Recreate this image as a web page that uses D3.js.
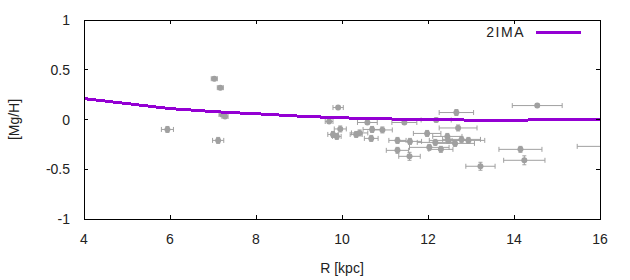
<!DOCTYPE html>
<html><head><meta charset="utf-8">
<script src="https://cdn.jsdelivr.net/npm/d3@7"></script>
<style>body{margin:0;background:#fff}svg{display:block}text{font-family:"Liberation Sans",Arial,sans-serif;font-size:14px;fill:#222}</style>
</head><body><svg id="c" width="630" height="280"></svg>
<script>
// model line (2IMA)
const lineR = [4.0,4.5,5.0,5.5,6.0,6.5,7.0,7.5,8.0,8.5,9.0,9.5,10.0,10.5,11.0,11.5,12.0,12.5,13.0,13.5,14.0,14.5,15.0,16.0];
const lineMgH = [0.21,0.185,0.16,0.135,0.11,0.095,0.08,0.068,0.058,0.046,0.034,0.025,0.017,0.011,0.006,0.003,0.0,-0.003,-0.006,-0.008,-0.007,-0.004,-0.002,0.0];
// observations
const obsR    = [5.94,7.03,7.17,7.21,7.28,7.12,9.91,9.70,9.96,9.79,9.88,10.33,10.41,10.59,10.70,10.94,10.68,12.66,11.45,12.19,12.70,11.98,11.29,11.58,12.45,12.78,12.94,12.47,12.63,12.17,12.03,12.30,11.29,11.57,14.54,14.15,14.24,13.22,16.37];
const obsMgH  = [-0.10,0.41,0.32,0.05,0.03,-0.21,0.12,-0.02,-0.095,-0.15,-0.17,-0.15,-0.135,-0.03,-0.10,-0.105,-0.19,0.07,-0.03,-0.005,-0.085,-0.14,-0.21,-0.22,-0.17,-0.20,-0.21,-0.21,-0.24,-0.23,-0.28,-0.30,-0.31,-0.37,0.14,-0.30,-0.41,-0.47,-0.27];
const obsRerr = [0.14,0.07,0.07,0.07,0.07,0.13,0.12,0.09,0.14,0.12,0.10,0.14,0.19,0.23,0.21,0.23,0.16,0.40,0.29,0.35,0.44,0.32,0.20,0.27,0.34,0.44,0.38,0.44,0.45,0.42,0.46,0.28,0.26,0.25,0.58,0.50,0.48,0.34,0.90];
const obsMerr = [0.03,0.02,0.02,0.02,0.02,0.03,0.02,0.02,0.03,0.03,0.03,0.03,0.03,0.02,0.03,0.03,0.03,0.03,0.02,0.02,0.03,0.03,0.03,0.03,0.03,0.03,0.03,0.03,0.03,0.03,0.03,0.03,0.03,0.04,0.02,0.03,0.045,0.04,0.03];
const xTicks = [4,6,8,10,12,14,16];
const yTicks = [1,0.5,0,-0.5,-1];
const seriesName = "2IMA";

const svg = d3.select("#c");
const L=84, R=600, T=20, B=219;
const x = d3.scaleLinear().domain([4,16]).range([L,R]);
const y = d3.scaleLinear().domain([-1,1]).range([B,T]);

svg.append("defs").append("clipPath").attr("id","pc").append("rect")
  .attr("x",L).attr("y",T).attr("width",R-L).attr("height",B-T);

const gray="#a0a0a0";
const g = svg.append("g").attr("clip-path","url(#pc)");
const obs = obsR.map((r,i)=>({r, m:obsMgH[i], ex:obsRerr[i], ey:obsMerr[i]}));
const pts = g.selectAll("g.p").data(obs).enter().append("g").attr("class","p")
  .attr("stroke",gray).attr("stroke-width",1).attr("fill",gray);
pts.append("line").attr("x1",d=>x(d.r-d.ex)).attr("x2",d=>x(d.r+d.ex)).attr("y1",d=>y(d.m)).attr("y2",d=>y(d.m));
pts.append("line").attr("x1",d=>x(d.r-d.ex)).attr("x2",d=>x(d.r-d.ex)).attr("y1",d=>y(d.m)-2.5).attr("y2",d=>y(d.m)+2.5);
pts.append("line").attr("x1",d=>x(d.r+d.ex)).attr("x2",d=>x(d.r+d.ex)).attr("y1",d=>y(d.m)-2.5).attr("y2",d=>y(d.m)+2.5);
pts.append("line").attr("x1",d=>x(d.r)).attr("x2",d=>x(d.r)).attr("y1",d=>y(d.m-d.ey)).attr("y2",d=>y(d.m+d.ey));
pts.append("line").attr("x1",d=>x(d.r)-2).attr("x2",d=>x(d.r)+2).attr("y1",d=>y(d.m-d.ey)).attr("y2",d=>y(d.m-d.ey));
pts.append("line").attr("x1",d=>x(d.r)-2).attr("x2",d=>x(d.r)+2).attr("y1",d=>y(d.m+d.ey)).attr("y2",d=>y(d.m+d.ey));
pts.append("circle").attr("cx",d=>x(d.r)).attr("cy",d=>y(d.m)).attr("r",3).attr("stroke","none");

const purple="#9400d3";
const lineData = lineR.map((r,i)=>[r,lineMgH[i]]);
g.append("path").datum(lineData).attr("fill","none").attr("stroke",purple).attr("stroke-width",3)
  .attr("shape-rendering","crispEdges")
  .attr("d",d3.line().x(d=>x(d[0])).y(d=>y(d[1])).curve(d3.curveMonotoneX));

// frame and ticks
const ax = svg.append("g").attr("stroke","#000").attr("stroke-width",1).attr("shape-rendering","crispEdges");
ax.append("rect").attr("x",L).attr("y",T).attr("width",R-L).attr("height",B-T).attr("fill","none");
xTicks.forEach(t=>{
  ax.append("line").attr("x1",x(t)).attr("x2",x(t)).attr("y1",B).attr("y2",B-4);
  ax.append("line").attr("x1",x(t)).attr("x2",x(t)).attr("y1",T).attr("y2",T+4);
});
yTicks.forEach(t=>{
  ax.append("line").attr("x1",L).attr("x2",L+4).attr("y1",y(t)).attr("y2",y(t));
  ax.append("line").attr("x1",R).attr("x2",R-4).attr("y1",y(t)).attr("y2",y(t));
});
svg.selectAll("text.xt").data(xTicks).enter().append("text").attr("class","xt")
  .attr("x",d=>x(d)).attr("y",B+25).attr("text-anchor","middle").text(d=>d);
svg.selectAll("text.yt").data(yTicks).enter().append("text").attr("class","yt")
  .attr("x",L-14).attr("y",d=>y(d)+5).attr("text-anchor","end").text(d=>d);

svg.append("text").attr("x",(L+R)/2).attr("y",273).attr("text-anchor","middle").text("R [kpc]");
svg.append("text").attr("transform","translate(19,"+((T+B)/2)+") rotate(-90)").attr("text-anchor","middle").text("[Mg/H]");

// legend
svg.append("text").attr("x",525).attr("y",37).attr("text-anchor","end").attr("letter-spacing","1.5px").text(seriesName);
svg.append("line").attr("x1",536).attr("x2",581).attr("y1",32.5).attr("y2",32.5).attr("stroke",purple).attr("stroke-width",3);
</script></body></html>
